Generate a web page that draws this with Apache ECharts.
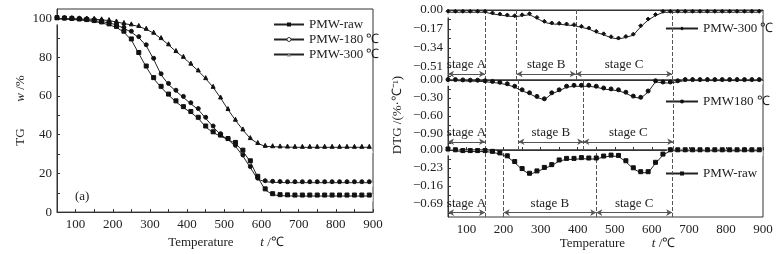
<!DOCTYPE html>
<html>
<head>
<meta charset="utf-8">
<script src="https://cdn.jsdelivr.net/npm/echarts@6/dist/echarts.min.js"></script>
<style>
  html, body { margin: 0; padding: 0; background: #fff; }
  #main { width: 783px; height: 254px; }
</style>
</head>
<body>
<div id="main"></div>
<script>
// 温度 (℃)
var temps = [50, 70, 90, 110, 130, 150, 170, 190, 210, 230, 250, 270, 290, 310, 330, 350, 370, 390, 410, 430,
  450, 470, 490, 510, 530, 550, 570, 590, 610, 630, 650, 670, 690, 710, 730, 750, 770, 790, 810, 830, 850, 870, 890];

// TG w/%
var tgRaw = [100, 99.8, 99.6, 99.3, 99, 98.5, 97.8, 96.8, 95.5, 93, 89, 82, 75, 69, 64.5, 60.5, 57, 54, 51.5, 48.5,
  44, 41, 39.3, 37.5, 35.5, 31.5, 26, 18, 11.5, 9, 8.5, 8.4, 8.3, 8.3, 8.3, 8.3, 8.3, 8.3, 8.3, 8.3, 8.3, 8.3, 8.3];
var tg180 = [100, 99.9, 99.8, 99.6, 99.4, 99, 98.5, 97.8, 96.8, 95, 93, 90.2, 86, 79, 71, 66, 62.5, 59.3, 56, 53,
  48.5, 44, 40, 37.5, 34, 29, 23, 17, 15.7, 15.4, 15.3, 15.2, 15.2, 15.2, 15.2, 15.2, 15.2, 15.2, 15.2, 15.2, 15.2, 15.2, 15.2];
var tg300 = [100, 100, 100, 99.9, 99.8, 99.7, 99.4, 99, 98.3, 97.5, 96.8, 96, 94.5, 92.5, 89.7, 86.5, 83, 80, 76.5, 73,
  69, 64.5, 59, 53, 47.5, 42.5, 38, 35.5, 34, 33.8, 33.7, 33.6, 33.5, 33.5, 33.5, 33.5, 33.5, 33.5, 33.5, 33.5, 33.5, 33.5, 33.5];

// DTG %/℃
var dtg300 = [-0.02, -0.02, -0.02, -0.02, -0.02, -0.02, -0.035, -0.045, -0.054, -0.06, -0.052, -0.042, -0.075, -0.11, -0.125, -0.128, -0.134, -0.14, -0.155, -0.17,
  -0.2, -0.222, -0.248, -0.26, -0.245, -0.225, -0.15, -0.09, -0.05, -0.021, -0.02, -0.02, -0.02, -0.02, -0.02, -0.02, -0.02, -0.02, -0.02, -0.02, -0.02, -0.02, -0.02];
var dtg180 = [-0.01, -0.01, -0.015, -0.02, -0.02, -0.03, -0.04, -0.055, -0.08, -0.12, -0.18, -0.23, -0.29, -0.33, -0.23, -0.18, -0.12, -0.105, -0.105, -0.105,
  -0.12, -0.15, -0.165, -0.18, -0.22, -0.285, -0.305, -0.2, -0.03, -0.05, -0.05, -0.03, -0.01, -0.01, -0.01, -0.01, -0.01, -0.01, -0.01, -0.01, -0.01, -0.01, -0.01];
var dtgRaw = [0, -0.01, -0.02, -0.02, -0.02, -0.02, -0.03, -0.05, -0.087, -0.16, -0.25, -0.31, -0.28, -0.235, -0.2, -0.14, -0.12, -0.12, -0.11, -0.115,
  -0.115, -0.09, -0.078, -0.082, -0.15, -0.24, -0.29, -0.29, -0.17, -0.065, -0.01, -0.01, -0.01, -0.01, -0.01, -0.01, -0.01, -0.01, -0.01, -0.01, -0.01, -0.01, -0.01];

// 刻度
var xTicks = [100, 200, 300, 400, 500, 600, 700, 800, 900];
var xMinorTicks = [150, 250, 350, 450, 550, 650, 750, 850];
var tgTicks = [0, 20, 40, 60, 80, 100];
var dtg300Ticks = [0, -0.17, -0.34, -0.51];
var dtg300TickLabels = ['0.00', '−0.17', '−0.34', '−0.51'];
var dtg180Ticks = [0, -0.3, -0.6, -0.9];
var dtg180TickLabels = ['0.00', '−0.30', '−0.60', '−0.90'];
var dtgRawTicks = [0, -0.23, -0.46, -0.69];
var dtgRawTickLabels = ['0.00', '−0.23', '−0.16', '−0.69'];

// 阶段划分
var stageNames = ['stage A', 'stage B', 'stage C'];
var stages300 = [[50, 150], [235, 395], [395, 655]];
var stages180 = [[50, 150], [240, 415], [415, 658]];
var stagesRaw = [[50, 150], [200, 450], [450, 655]];

var FONT = 'Liberation Serif';
var INK = '#222';

function pairs(vals) {
  return temps.map(function (t, i) { return [t, vals[i]]; });
}
function midTicks(ticks) {
  var out = [];
  for (var i = 0; i < ticks.length; i++) {
    out.push(ticks[i]);
    out.push(ticks[i] + (i + 1 < ticks.length ? ticks[i + 1] - ticks[i] : ticks[i] - ticks[i - 1]) / 2);
  }
  return out;
}
function labelOf(ticks, labels) {
  return function (v) {
    for (var i = 0; i < ticks.length; i++) {
      if (Math.abs(ticks[i] - v) < 1e-6) return labels[i];
    }
    return '';
  };
}

var chartDom = document.getElementById('main');
var chart = echarts.init(chartDom);

function xAxisOf(gi, showLabel) {
  return {
    gridIndex: gi,
    type: 'value',
    min: 50,
    max: 900,
    axisLine: { show: true, lineStyle: { color: '#333', width: 1 } },
    axisTick: {
      show: showLabel,
      inside: true,
      length: 3,
      customValues: xTicks.concat(xMinorTicks),
      lineStyle: { color: '#333' },
    },
    axisLabel: {
      show: showLabel,
      customValues: xTicks,
      fontFamily: FONT,
      fontSize: 13,
      color: INK,
      margin: 6,
    },
    splitLine: { show: false },
  };
}

function yAxisOf(gi, min, max, ticks, labels, extra) {
  var ax = {
    gridIndex: gi,
    type: 'value',
    min: min,
    max: max,
    axisLine: { show: true, lineStyle: { color: '#333', width: 1 } },
    axisTick: {
      show: true,
      inside: true,
      length: 3,
      customValues: midTicks(ticks).filter(function (v) { return v >= min && v <= max; }),
      lineStyle: { color: '#333' },
    },
    axisLabel: {
      customValues: ticks,
      formatter: labelOf(ticks, labels),
      fontFamily: FONT,
      fontSize: 13,
      color: INK,
      margin: 5,
    },
    splitLine: { show: false },
  };
  return Object.assign(ax, extra || {});
}

// 主线 + 灰色空心阴影标记
function makeSeries(name, vals, gi, symbol, ghost, size) {
  return [
    {
      type: 'scatter',
      xAxisIndex: gi,
      yAxisIndex: gi,
      data: pairs(vals),
      symbol: ghost,
      symbolSize: size + 1,
      symbolOffset: [0, 2],
      itemStyle: { color: '#fff', borderColor: '#777', borderWidth: 1 },
      z: 4,
      silent: true,
    },
    {
      type: 'line',
      name: name,
      xAxisIndex: gi,
      yAxisIndex: gi,
      data: pairs(vals),
      symbol: symbol,
      symbolSize: size,
      symbolOffset: [0, -1],
      showSymbol: true,
      lineStyle: { color: INK, width: 1 },
      itemStyle: { color: '#111', borderColor: '#111' },
      z: 5,
    },
  ];
}

function stageMarks(stages, arrowY) {
  var data = [];
  var xs = [stages[0][1], stages[1][0], stages[1][1], stages[2][1]];
  xs.forEach(function (x) {
    data.push({ xAxis: x, symbol: 'none' });
  });
  stages.forEach(function (s, i) {
    data.push([
      {
        coord: [s[0], arrowY],
        symbol: 'arrow',
        label: {
          show: true,
          formatter: stageNames[i],
          position: 'insideMiddleTop',
          distance: 3,
          fontFamily: FONT,
          fontSize: 13,
          color: INK,
        },
        lineStyle: { type: 'solid', color: '#555' },
      },
      { coord: [s[1], arrowY], symbol: 'arrow' },
    ]);
  });
  return {
    silent: true,
    symbol: 'none',
    symbolSize: [5, 6],
    animation: false,
    label: { show: false },
    lineStyle: { type: 'dashed', color: '#555', width: 1 },
    data: data,
  };
}

var series = [];
series = series.concat(makeSeries('PMW-raw', tgRaw, 0, 'rect', 'emptyRect', 4));
series = series.concat(makeSeries('PMW-180 ℃', tg180, 0, 'circle', 'emptyCircle', 4));
series = series.concat(makeSeries('PMW-300 ℃', tg300, 0, 'triangle', 'emptyTriangle', 4));

var s300 = makeSeries('dtg300', dtg300, 1, 'diamond', 'emptyDiamond', 4);
s300[1].markLine = stageMarks(stages300, -0.572);
var s180 = makeSeries('dtg180', dtg180, 2, 'circle', 'emptyCircle', 4);
s180[1].markLine = stageMarks(stages180, -1.03);
var sRaw = makeSeries('dtgraw', dtgRaw, 3, 'rect', 'emptyRect', 4);
sRaw[1].markLine = stageMarks(stagesRaw, -0.8);
series = series.concat(s300, s180, sRaw);

var legendNames = { dtg300: 'PMW-300 ℃', dtg180: 'PMW180 ℃', dtgraw: 'PMW-raw' };
var legendText = { fontFamily: FONT, fontSize: 13, color: INK };
function smallLegend(name, top) {
  return {
    data: [name],
    left: 660,
    top: top,
    itemWidth: 32,
    itemHeight: 5,
    selectedMode: false,
    textStyle: legendText,
    formatter: function (n) { return legendNames[n] || n; },
  };
}

var option = {
  animation: false,
  grid: [
    { left: 57, top: 9, width: 316, height: 208, show: true, borderColor: '#333', borderWidth: 1 },
    { left: 448, top: 10, width: 315, height: 70, show: true, borderColor: '#333', borderWidth: 1 },
    { left: 448, top: 80, width: 315, height: 70, show: true, borderColor: '#333', borderWidth: 1 },
    { left: 448, top: 150, width: 315, height: 67, show: true, borderColor: '#333', borderWidth: 1 },
  ],
  legend: [
    {
      data: [
        'PMW-raw',
        { name: 'PMW-180 ℃', itemStyle: { color: '#fff', borderColor: '#333', borderWidth: 1 } },
        { name: 'PMW-300 ℃', itemStyle: { color: '#888', borderColor: '#888' } },
      ],
      orient: 'vertical',
      left: 268,
      top: 13,
      itemWidth: 30,
      itemHeight: 5,
      itemGap: 2,
      selectedMode: false,
      textStyle: legendText,
    },
    smallLegend('dtg300', 17),
    smallLegend('dtg180', 90),
    smallLegend('dtgraw', 162),
  ],
  xAxis: [
    Object.assign(xAxisOf(0, true), {
      name: '{n|Temperature}        {i|t} {n|/℃}',
      nameLocation: 'middle',
      nameGap: 20,
      nameTextStyle: {
        padding: [0, 0, 0, 22],
        rich: {
          n: { fontFamily: FONT, fontSize: 13, color: INK },
          i: { fontFamily: FONT, fontSize: 13, fontStyle: 'italic', color: INK },
        },
      },
    }),
    xAxisOf(1, false),
    xAxisOf(2, false),
    Object.assign(xAxisOf(3, true), {
      name: '{n|Temperature}        {i|t} {n|/℃}',
      nameLocation: 'middle',
      nameGap: 20,
      nameTextStyle: {
        padding: [0, 0, 0, 24],
        rich: {
          n: { fontFamily: FONT, fontSize: 13, color: INK },
          i: { fontFamily: FONT, fontSize: 13, fontStyle: 'italic', color: INK },
        },
      },
    }),
  ],
  yAxis: [
    yAxisOf(0, 0, 105, tgTicks, tgTicks.map(String), {
      name: '{n|TG}        {i|w} {n|/%}',
      nameLocation: 'middle',
      nameGap: 30,
      nameTextStyle: {
        rich: {
          n: { fontFamily: FONT, fontSize: 13, color: INK },
          i: { fontFamily: FONT, fontSize: 13, fontStyle: 'italic', color: INK },
        },
      },
    }),
    yAxisOf(1, -0.626, 0, dtg300Ticks, dtg300TickLabels),
    yAxisOf(2, -1.167, 0, dtg180Ticks, dtg180TickLabels, {
      name: 'DTG /(%·℃⁻¹)',
      nameLocation: 'middle',
      nameGap: 44,
      nameTextStyle: { fontFamily: FONT, fontSize: 13, color: INK },
    }),
    yAxisOf(3, -0.856, 0, dtgRawTicks, dtgRawTickLabels),
  ],
  graphic: [
    {
      type: 'text',
      left: 75,
      top: 190,
      style: { text: '(a)', fontFamily: FONT, fontSize: 13, fill: INK },
    },
  ],
  series: series,
};

chart.setOption(option);
</script>
</body>
</html>
